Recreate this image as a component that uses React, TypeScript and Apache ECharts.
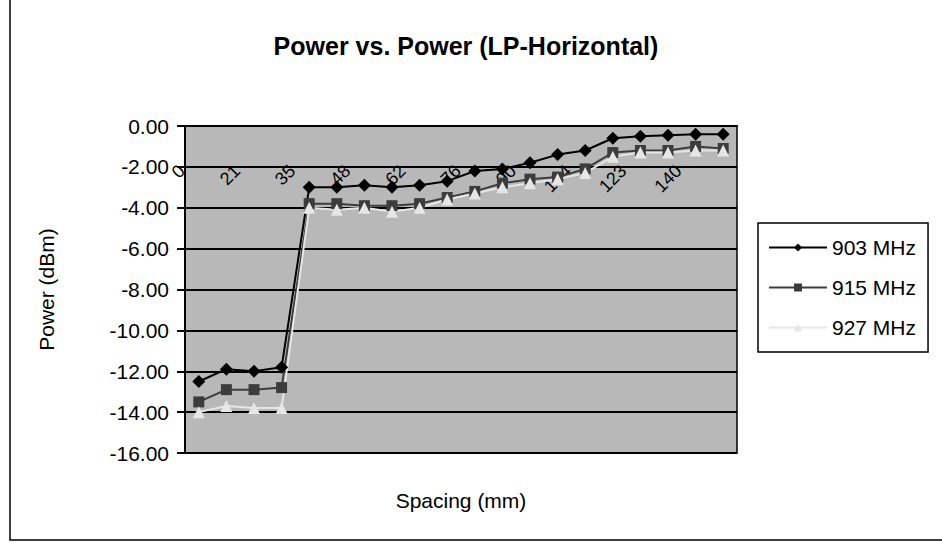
import React, { useEffect, useRef } from "react";
import * as echarts from "echarts";

const categories = ["0", "10", "21", "28", "35", "41", "48", "55", "62", "69", "76", "83", "90", "97", "104", "113", "123", "132", "140", "150"];
const s903 = [-12.5, -11.9, -12.0, -11.8, -3.0, -3.0, -2.9, -3.0, -2.9, -2.7, -2.2, -2.1, -1.8, -1.4, -1.2, -0.6, -0.5, -0.45, -0.4, -0.4];
const s915 = [-13.5, -12.9, -12.9, -12.8, -3.8, -3.8, -3.9, -3.9, -3.8, -3.5, -3.2, -2.8, -2.6, -2.5, -2.1, -1.3, -1.2, -1.2, -1.0, -1.1];
const s927 = [-14.0, -13.7, -13.8, -13.8, -4.0, -4.1, -4.0, -4.2, -4.0, -3.6, -3.3, -3.0, -2.8, -2.6, -2.3, -1.5, -1.3, -1.3, -1.2, -1.2];
const seriesNames = ["903 MHz", "915 MHz", "927 MHz"];

const FONT = "Liberation Sans, Arial, sans-serif";

export default function App() {
  const ref = useRef<HTMLDivElement>(null);
  useEffect(() => {
    if (!ref.current) return;
    const chart = echarts.init(ref.current, null, { renderer: "svg" });
    chart.setOption({
      animation: false,
      backgroundColor: "#ffffff",
      textStyle: { fontFamily: FONT },
      title: {
        text: "Power vs. Power (LP-Horizontal)",
        left: 461,
        textAlign: "center",
        top: 28,
        textStyle: { fontFamily: FONT, fontWeight: "bold", fontSize: 25, color: "#000" },
      },
      graphic: [
        {
          type: "polyline",
          shape: { points: [[10, 0], [10, 540], [942, 540]] },
          style: { stroke: "#000", lineWidth: 1.5, fill: "none" },
          silent: true,
        },
        {
          type: "text",
          x: 461,
          y: 500,
          style: {
            text: "Spacing (mm)",
            fontFamily: FONT,
            fontSize: 21,
            fill: "#000",
            textAlign: "center",
            textVerticalAlign: "middle",
          },
          silent: true,
        },
      ],
      legend: {
        orient: "vertical",
        left: 758,
        top: 223,
        backgroundColor: "#ffffff",
        borderColor: "#000",
        borderWidth: 1.5,
        borderRadius: 0,
        padding: [14, 12, 14, 10],
        itemGap: 19,
        itemWidth: 58,
        itemHeight: 10,
        textStyle: { fontFamily: FONT, fontSize: 21, color: "#000" },
        data: seriesNames,
      },
      grid: {
        left: 185,
        top: 126,
        width: 552,
        height: 327,
        show: true,
        backgroundColor: "#b8b8b8",
        borderColor: "#000",
        borderWidth: 1.5,
        containLabel: false,
      },
      xAxis: {
        type: "category",
        data: categories,
        boundaryGap: true,
        position: "top",
        z: 3,
        axisLine: { lineStyle: { color: "#000", width: 2 } },
        axisTick: { show: false },
        axisLabel: {
          inside: true,
          interval: 1,
          rotate: 45,
          margin: 25,
          padding: [0, 24, 0, 0],
          fontFamily: FONT,
          fontSize: 18,
          color: "#000",
        },
        splitLine: { show: false },
      },
      yAxis: {
        type: "value",
        min: -16,
        max: 0,
        interval: 2,
        name: "Power (dBm)",
        nameLocation: "middle",
        nameGap: 128,
        nameRotate: 90,
        nameTextStyle: { fontFamily: FONT, fontSize: 21, color: "#000" },
        axisLine: { show: true, lineStyle: { color: "#000", width: 2 } },
        axisTick: { show: true, inside: false, length: 8, lineStyle: { color: "#000", width: 2 } },
        axisLabel: {
          margin: 16,
          fontFamily: FONT,
          fontSize: 21,
          color: "#000",
          formatter: (v: number) => v.toFixed(2),
        },
        splitLine: { show: true, lineStyle: { color: "#000", width: 2 } },
      },
      series: [
        {
          name: seriesNames[0],
          type: "line",
          data: s903,
          symbol: "diamond",
          symbolSize: 13,
          lineStyle: { color: "#000", width: 2 },
          itemStyle: { color: "#000" },
        },
        {
          name: seriesNames[1],
          type: "line",
          data: s915,
          symbol: "rect",
          symbolSize: 11,
          lineStyle: { color: "#3c3c3c", width: 2 },
          itemStyle: { color: "#3c3c3c" },
        },
        {
          name: seriesNames[2],
          type: "line",
          data: s927,
          symbol: "triangle",
          symbolSize: 12,
          lineStyle: { color: "#e6e6e6", width: 2 },
          itemStyle: { color: "#e6e6e6" },
        },
      ],
    });
    return () => chart.dispose();
  }, []);
  return (
    <div
      ref={ref}
      style={{ position: "fixed", left: 0, top: 0, width: 942, height: 548 }}
    />
  );
}
